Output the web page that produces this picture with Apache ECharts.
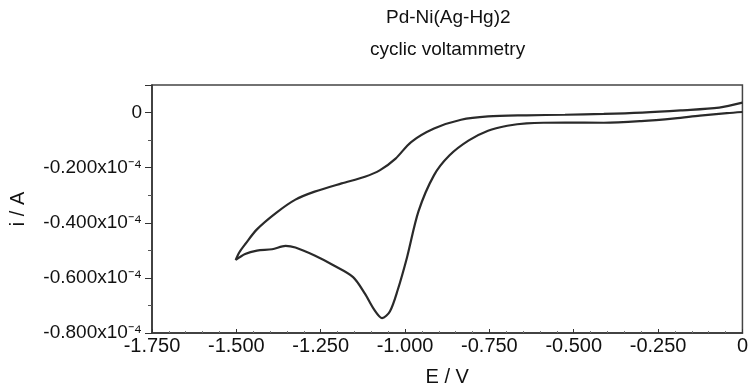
<!DOCTYPE html>
<html>
<head>
<meta charset="utf-8">
<script src="https://cdn.jsdelivr.net/npm/echarts@6/dist/echarts.min.js"></script>
<style>
  html, body { margin: 0; padding: 0; background: #fff; }
  #chart { width: 751px; height: 392px; }
</style>
</head>
<body>
<div id="chart"></div>
<script>
// Scan: E in V, i in units of 1e-4 A
// forward scan from 0 V to -1.5 V (upper branch)
const forwardE = [0, -0.069, -0.183, -0.297, -0.411, -0.526, -0.640, -0.754, -0.834, -0.914, -0.982, -1.028, -1.074, -1.119, -1.188, -1.268, -1.325, -1.382, -1.439, -1.474, -1.491, -1.502];
const forwardI = [0.036, 0.018, 0.008, 0.000, -0.005, -0.008, -0.010, -0.014, -0.026, -0.058, -0.107, -0.167, -0.209, -0.233, -0.257, -0.287, -0.316, -0.364, -0.424, -0.478, -0.507, -0.535];
// return scan from -1.5 V back to 0 V (lower branch with the peak)
const returnE = [-1.474, -1.439, -1.394, -1.354, -1.325, -1.268, -1.211, -1.154, -1.119, -1.091, -1.068, -1.045, -1.022, -0.994, -0.960, -0.914, -0.868, -0.811, -0.754, -0.697, -0.640, -0.525, -0.411, -0.300, -0.200, -0.126, -0.046, 0];
const returnI = [-0.513, -0.501, -0.496, -0.484, -0.490, -0.519, -0.555, -0.597, -0.657, -0.716, -0.746, -0.722, -0.645, -0.525, -0.358, -0.227, -0.155, -0.101, -0.066, -0.048, -0.039, -0.036, -0.037, -0.031, -0.021, -0.011, -0.002, 0.002];

const xTicks = [-1.75, -1.5, -1.25, -1.0, -0.75, -0.5, -0.25, 0];
const yTicks = [-0.8e-4, -0.6e-4, -0.4e-4, -0.2e-4, 0];

const scan = [];
forwardE.forEach((e, k) => scan.push([e, forwardI[k] * 1e-4]));
returnE.forEach((e, k) => scan.push([e, returnI[k] * 1e-4]));

const chart = echarts.init(document.getElementById('chart'));
const axisColor = '#333';
const font = '"Liberation Sans", Arial, sans-serif';

const option = {
  animation: false,
  backgroundColor: '#fff',
  title: [
    {
      text: 'Pd-Ni(Ag-Hg)2',
      left: 386, top: 8, padding: 0,
      textStyle: { fontFamily: font, fontSize: 19, fontWeight: 'normal', color: '#111' }
    },
    {
      text: 'cyclic voltammetry',
      left: 370, top: 40, padding: 0,
      textStyle: { fontFamily: font, fontSize: 19, fontWeight: 'normal', color: '#111' }
    }
  ],
  grid: { left: 150, right: 3, top: 85, bottom: 56, show: true, borderColor: '#444', borderWidth: 1.5 },
  xAxis: {
    type: 'value',
    min: xTicks[0],
    max: xTicks[xTicks.length - 1],
    interval: 0.25,
    name: 'E / V',
    nameLocation: 'middle',
    nameGap: 34,
    nameTextStyle: { fontFamily: font, fontSize: 20, color: '#111' },
    axisLine: { show: true, onZero: false, lineStyle: { color: axisColor, width: 1.5 } },
    axisTick: { show: true, inside: true, length: 4, lineStyle: { color: axisColor } },
    minorTick: { show: true, splitNumber: 5, length: 2, lineStyle: { color: '#777' } },
    splitLine: { show: false },
    axisLabel: {
      fontFamily: font, fontSize: 20, color: '#111', margin: 3,
      formatter: v => (Math.abs(v) < 1e-9 ? '0' : v.toFixed(3))
    }
  },
  yAxis: {
    type: 'value',
    min: yTicks[0],
    max: 0.1e-4,
    interval: 0.2e-4,
    name: 'i / A',
    nameLocation: 'middle',
    nameGap: 124,
    nameTextStyle: { fontFamily: font, fontSize: 20, color: '#111' },
    axisLine: { show: true, onZero: false, lineStyle: { color: axisColor, width: 1.5 } },
    axisTick: { show: true, length: 7, lineStyle: { color: axisColor } },
    minorTick: { show: true, splitNumber: 2, length: 4, lineStyle: { color: '#555' } },
    splitLine: { show: false },
    axisLabel: {
      fontFamily: font, fontSize: 19, color: '#111', margin: 10,
      showMaxLabel: false,
      formatter: v => {
        const m = Math.round(v * 1e7) / 1e3;
        if (Math.abs(m) < 1e-9) return '0';
        if (m > 0.15) return '';
        return m.toFixed(3) + 'x10\u207B\u2074';
      }
    }
  },
  series: [
    {
      type: 'line',
      data: scan,
      smooth: 0.3,
      showSymbol: false,
      lineStyle: { color: '#2a2a2a', width: 2.2 }
    }
  ]
};

chart.setOption(option);
</script>
</body>
</html>
